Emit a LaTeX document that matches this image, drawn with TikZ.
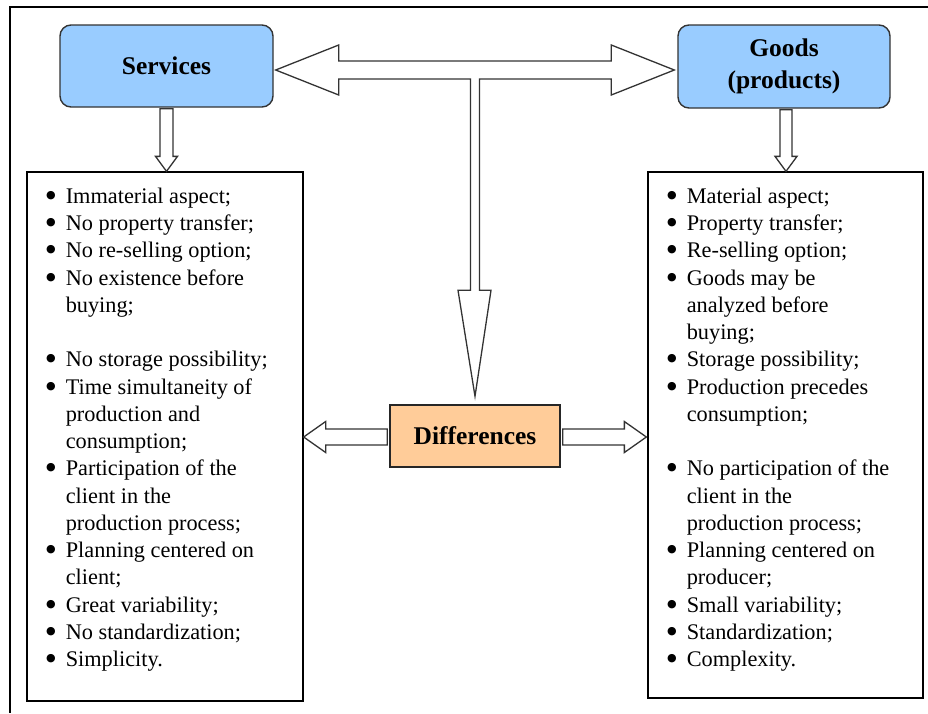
\documentclass[tikz,border=0pt]{standalone}
\usepackage{fontspec}
\setmainfont{Liberation Serif}
\newfontfamily\bulletfont{DejaVu Sans}
\newcommand\blt{\raisebox{5pt}{\bulletfont\fontsize{11}{11}\selectfont ●}}
\usetikzlibrary{calc}
\definecolor{svcblue}{HTML}{99CCFF}
\definecolor{diffor}{HTML}{FFCC99}
\definecolor{arrgray}{HTML}{333333}
\tikzset{
 topbox/.style={draw=black!80, line width=1.4pt, fill=svcblue, rounded corners=11pt, minimum width=213pt, minimum height=82pt, font=\fontsize{25.5}{32}\selectfont\bfseries, align=center, inner sep=0pt},
 diffbox/.style={draw=black!85, line width=1.4pt, fill=diffor, minimum width=170pt, minimum height=62pt, font=\fontsize{25.5}{30}\selectfont\bfseries, inner sep=0pt},
 listbox/.style={draw=black, line width=1.3pt, inner sep=0pt},
 blockarrow/.style={draw=arrgray, line width=1.3pt, fill=white, line join=miter},
 listtext/.style={anchor=north west, inner sep=0pt, font=\fontsize{22.3}{27.25}\selectfont},
 frameline/.style={draw=black, line width=1.5pt},
}
\begin{document}
\begin{tikzpicture}[x=1pt,y=-1pt]
\useasboundingbox (0,0) rectangle (928,713);
\draw[frameline] (928,7) -- (10,7) -- (10,713);

\node[topbox] (serv) at (166.5,66) {Services};
\node[topbox, minimum width=212pt, minimum height=83pt] (goods) at (784,66.5) {Goods\\(products)};
\node[diffbox] (diff) at (475,436) {Differences};
\node[listbox, minimum width=276pt, minimum height=529pt] (lbox) at (165,436.5) {};
\node[listbox, minimum width=275pt, minimum height=526pt] (rbox) at (785.5,435) {};

\node[listtext] (ltext) at (46,184) {\begin{tabular}{@{}l@{\hspace{10pt}}l@{}}
\blt & Immaterial aspect;\\
\blt & No property transfer;\\
\blt & No re-selling option;\\
\blt & No existence before\\
 & buying;\\
 & \\
\blt & No storage possibility;\\
\blt & Time simultaneity of\\
 & production and\\
 & consumption;\\
\blt & Participation of the\\
 & client in the\\
 & production process;\\
\blt & Planning centered on\\
 & client;\\
\blt & Great variability;\\
\blt & No standardization;\\
\blt & Simplicity.
\end{tabular}};

\node[listtext] (rtext) at (667,184) {\begin{tabular}{@{}l@{\hspace{10pt}}l@{}}
\blt & Material aspect;\\
\blt & Property transfer;\\
\blt & Re-selling option;\\
\blt & Goods may be\\
 & analyzed before\\
 & buying;\\
\blt & Storage possibility;\\
\blt & Production precedes\\
 & consumption;\\
 & \\
\blt & No participation of the\\
 & client in the\\
 & production process;\\
\blt & Planning centered on\\
 & producer;\\
\blt & Small variability;\\
\blt & Standardization;\\
\blt & Complexity.
\end{tabular}};

% down arrows from the top boxes
\coordinate (t1) at (serv.south |- lbox.north);
\draw[blockarrow] ($(serv.south)+(-6.5,1)$) -- ($(t1)+(-6.5,-15)$) -- ($(t1)+(-11,-15)$) -- (t1)
  -- ($(t1)+(11,-15)$) -- ($(t1)+(6.5,-15)$) -- ($(serv.south)+(6.5,1)$) -- cycle;
\coordinate (t2) at ($(goods.south)+(2,0)$);
\coordinate (t3) at (t2 |- rbox.north);
\draw[blockarrow] ($(t2)+(-6,1)$) -- ($(t3)+(-6,-15)$) -- ($(t3)+(-11,-15)$) -- (t3)
  -- ($(t3)+(11,-15)$) -- ($(t3)+(6,-15)$) -- ($(t2)+(6,1)$) -- cycle;

% T-shaped double arrow
\coordinate (lt) at ($(serv.east)+(2,4)$);
\coordinate (rt) at ($(goods.west)+(-3,3.5)$);
\coordinate (dt) at ($(diff.north)+(0,-8)$);
\coordinate (sj) at (dt |- lt);
\draw[blockarrow] (lt) -- ($(lt)+(63,-25)$) -- ($(lt)+(63,-9)$) -- ($(rt)+(-63,-9)$)
  -- ($(rt)+(-63,-25)$) -- (rt) -- ($(rt)+(-63,25)$) -- ($(rt)+(-63,9)$)
  -- ($(sj)+(4.5,9)$) -- ($(dt)+(4.5,-106)$) -- ($(dt)+(16,-106)$) -- (dt)
  -- ($(dt)+(-17,-106)$) -- ($(dt)+(-4.5,-106)$) -- ($(sj)+(-4.5,9)$)
  -- ($(lt)+(63,9)$) -- ($(lt)+(63,25)$) -- cycle;

% side arrows from Differences
\coordinate (la) at (lbox.east |- diff.west);
\coordinate (ra) at ($(rbox.west |- diff.west)+(-1,0)$);
\draw[blockarrow] ($(la)+(0,1)$) -- ($(la)+(22,-14.5)$) -- ($(la)+(22,-7)$) -- ($(diff.west)+(-2,-7)$)
  -- ($(diff.west)+(-2,9)$) -- ($(la)+(22,9)$) -- ($(la)+(22,16.5)$) -- cycle;
\draw[blockarrow] ($(ra)+(0,1)$) -- ($(ra)+(-22,-14.5)$) -- ($(ra)+(-22,-7)$) -- ($(diff.east)+(2,-7)$)
  -- ($(diff.east)+(2,9)$) -- ($(ra)+(-22,9)$) -- ($(ra)+(-22,16.5)$) -- cycle;
\end{tikzpicture}
\end{document}
